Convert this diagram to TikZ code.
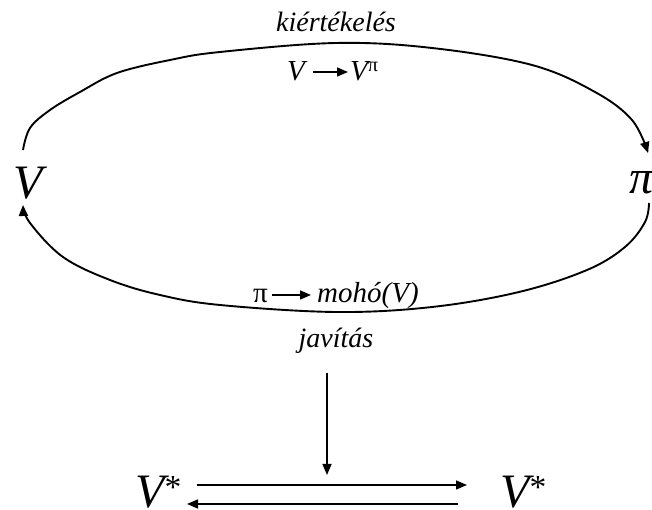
\documentclass[tikz,border=0pt]{standalone}
\usepackage{fontspec}
\setmainfont{Liberation Serif}
\usetikzlibrary{arrows.meta}
\begin{document}
\begin{tikzpicture}[x=1pt,y=1pt,
  curve/.style={line width=1.9pt, -{Triangle[length=11pt,width=9pt]}},
  arr/.style={line width=1.5pt, -{Triangle[length=11pt,width=9pt]}},
  lbl/.style={inner sep=0pt, font=\fontsize{28}{30}\selectfont\itshape},
  lbltwo/.style={inner sep=0pt, font=\fontsize{29}{31}\selectfont\itshape},
  lblup/.style={inner sep=0pt, font=\fontsize{29}{31}\selectfont},
  big/.style={inner sep=0pt, font=\fontsize{48}{52}\selectfont\itshape}]
\useasboundingbox (0,0) rectangle (652,510);

% main labels
\node[big, anchor=base west] (V) at (13,311) {V};
\node[big, anchor=base west] (P) at (629,316) {π};

% cycle
\coordinate (t0) at (23,360);
\coordinate (t1) at (648,357);
\coordinate (b0) at (649,307);
\coordinate (b1) at (23,305);
\draw[curve] plot[smooth, tension=0.6] coordinates {(t0) (30,382) (50,400) (80,418) (117,437) (170,450) (220,458) (336,467) (432,462) (532,445) (595,418) (632,390) (t1)};
\draw[curve] plot[smooth, tension=0.6] coordinates {(b0) (645,288) (625,263) (587,240) (519,218) (432,203) (336,198) (220,205) (160,215) (110,230) (63,253) (30,287) (b1)};

% top labels
\node[lbl, anchor=base] (kie) at (336,478) {kiértékelés};
\node[lbltwo, anchor=base west] (V1) at (287,429) {V};
\node[lbltwo, anchor=base west] (V2) at (350,429) {V\textsuperscript{\upshape π}};
\coordinate (a0) at (313,438);
\coordinate (a1) at (348,438);
\draw[arr] (a0) -- (a1);

% bottom labels
\node[lblup, anchor=base west] (pi) at (253,207) {π};
\node[lbltwo, anchor=base west] (moho) at (317,207) {mohó(V)};
\coordinate (m0) at (272,215);
\coordinate (m1) at (311,215);
\draw[arr] (m0) -- (m1);
\node[lbl, anchor=base] (jav) at (336,162) {javítás};

% vertical arrow
\coordinate (d0) at (327,137);
\coordinate (d1) at (327,35);
\draw[arr] (d0) -- (d1);

% V* nodes
\node[big, text depth=0pt, anchor=base west] (S1) at (135,2) {V\textsuperscript{\upshape *}};
\node[big, text depth=0pt, anchor=base west] (S2) at (500,2) {V\textsuperscript{\upshape *}};
\coordinate (h0) at (197,25);
\coordinate (h1) at (467,25);
\coordinate (g0) at (458,6);
\coordinate (g1) at (187,6);
\draw[arr] (h0) -- (h1);
\draw[arr] (g0) -- (g1);
\end{tikzpicture}
\end{document}
